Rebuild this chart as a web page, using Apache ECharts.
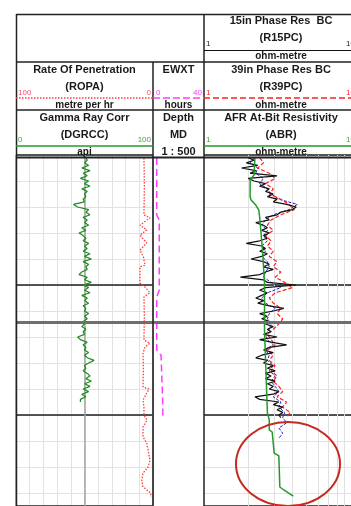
<!DOCTYPE html>
<html><head><meta charset="utf-8">
<script src="https://cdn.jsdelivr.net/npm/echarts@6/dist/echarts.min.js"></script>
<style>html,body{margin:0;padding:0;background:#fff}#c{width:351px;height:506px}</style>
</head><body><div id="c"></div>
<script>
// ---- depth axis ----
const depthMin = 1475, depthMax = 1542.5;
const minorStep = 5, majorStep = 25;

// ---- Gamma Ray Corr (DGRCC), api, 0..100 ----
const gammaTop = 1475.5, gammaStep = 0.5;
const gammaValues = [
  51,52,50,53,48,54,49,52,47,53,
  50,54,48,52,50,51,49,50,42,45,
  53,51,54,49,52,50,53,48,51,46,
  49,51,49,53,50,52,49,54,50,55,
  49,53,51,52,48,46,52,50,55,49,
  53,50,54,48,52,50,53,49,51,50,
  53,50,52,49,50,48,51,49,50,45,
  47,52,49,51,50,53,50,52,57,53,
  50,51,49,52,54,51,55,50,54,49,
  53,48,51,47,47
];

// ---- Rate Of Penetration (ROPA), metre per hr, 100..0 ----
const ropaDepths = [1475.6,1481,1486.5,1487.1,1488.5,1489.4,1490.4,1491.9,1493.3,1494.6,1496.2,1496.5,1498.5,1499.6,1500.4,1501.5,1502.3,1506,1510.6,1511.2,1511.9,1513.1,1516,1519.6,1520.0,1520.8,1522.1,1523.5,1525,1526,1527.3,1529.2,1530.4,1531.7,1533.7,1535,1536.2,1537.5,1538.8,1540,1540.8];
const ropaValues = [6.6,6.3,6.6,2.2,9.5,4.6,9.5,4.6,9.5,7.0,5.8,9.5,9.5,9.5,5.8,2.2,6.6,6.3,6.6,2.2,5.8,7.3,7.0,7.3,2.9,4.6,7.3,6.6,6.6,4.4,7.3,7.3,4.6,3.6,2.2,3.6,7.3,8.2,7.3,1.7,1.5];

// ---- EWXT, hours, 0..40 ----
const ewxtDepths = [1475.6,1486.5,1487.5,1501,1502.3,1512.5,1513.5,1515.4,1519.6,1522.7,1525.6];
const ewxtValues = [2.9,2.9,4.9,4.9,2.9,2.9,6.3,6.6,7.2,7.6,7.7];

// ---- 15in Phase Res BC (R15PC), ohm-metre, 1..10 log ----
const r15Top = 1475.5, r15Step = 0.5;
const r15Values = [
  2.00,2.19,1.94,2.32,1.80,2.25,2.06,3.14,2.00,2.19,
  2.62,2.39,2.78,2.62,2.96,2.70,3.14,2.96,3.65,4.24,
  4.00,3.33,3.14,2.62,2.78,2.25,2.54,2.70,2.47,2.78,
  2.54,2.70,2.39,1.94,2.47,2.62,2.39,2.70,2.47,2.09,
  2.54,2.78,2.54,2.96,2.62,2.39,1.77,2.54,2.70,4.24,
  2.62,2.39,2.70,2.47,2.25,2.54,2.32,2.78,3.49,2.96,
  2.39,2.70,2.47,2.78,2.62,2.96,2.70,2.86,2.54,3.14,
  2.39,2.86,3.65,2.78,2.54,2.96,2.47,2.25,2.70,2.54,
  2.96,2.70,3.05,2.62,2.86,2.62,3.05,2.70,2.96,2.78,
  3.23,2.96,2.22,2.39,3.23,2.96,3.43,3.14,3.43,3.23,
  3.33
];

// ---- 39in Phase Res BC (R39PC), ohm-metre ----
const r39Top = 1475.5, r39Step = 1;
const r39Values = [
  2.39,2.54,2.32,2.78,3.05,2.62,2.96,2.78,3.33,3.79,
  4.11,3.33,2.86,2.70,2.96,2.62,2.86,2.70,2.96,2.78,
  3.14,2.96,3.33,3.05,3.54,4.00,3.05,2.78,2.96,3.33,
  3.14,3.43,3.23,2.96,2.70,2.86,3.05,2.70,2.96,2.78,
  3.05,2.86,3.14,2.96,3.23,3.43,3.14,3.65,3.43,3.86,
  3.65
];

// ---- blue resistivity curve, ohm-metre ----
const blueTop = 1475.5, blueStep = 1;
const blueValues = [
  2.19,2.06,2.32,2.25,2.54,2.39,2.70,2.86,3.23,4.31,
  3.79,2.96,2.62,2.47,2.70,2.54,2.70,2.47,2.62,2.47,
  2.70,2.78,2.62,2.54,2.86,3.33,2.70,2.47,2.62,3.05,
  2.78,2.70,2.86,2.78,2.62,2.70,2.96,2.62,2.78,2.70,
  2.96,2.78,3.05,2.86,3.05,3.23,2.96,3.33,3.23,3.54,
  3.43,3.65,3.23,3.43,3.23
];

// ---- AFR At-Bit Resistivity (ABR), ohm-metre ----
const abrDepths = [1475.58,1478.85,1479.81,1483.08,1483.65,1484.62,1485.58,1486.92,1493.27,1499.62,1508.65,1524.62,1525.96,1527.88,1528.27,1532.31,1532.88,1538.85,1539.42,1540.58];
const abrValues = [2.22,2.19,2.06,2.06,2.09,2.25,2.36,2.39,2.50,2.58,2.58,2.70,2.78,2.78,2.91,3.00,3.23,3.28,3.49,4.05];

const logGridValues = [2,3,4,5,6,7,8,9];
const sectionBreaks = [1507.1];

// ---- build series data ----
const fromStep = (top, step, vals) => vals.map((v, i) => [v, top + i * step]);
const fromPairs = (ds, vals) => vals.map((v, i) => [v, ds[i]]);

const FONT = '"Liberation Sans", Arial, Helvetica, sans-serif';
const chart = echarts.init(document.getElementById('c'), null, {renderer: 'canvas'});

const hideAxis = {axisLine:{show:false}, axisTick:{show:false}, axisLabel:{show:false}};
const yBase = {type:'value', inverse:true, min:depthMin, max:depthMax, ...hideAxis};
const minorLine = {show:true, lineStyle:{color:'#e2e2e2', width:1}};
const majorLine = {show:true, lineStyle:{color:'#1e1e1e', width:1.5}};

const breakLine = {
  silent:true, symbol:'none', label:{show:false}, animation:false,
  lineStyle:{color:'#6e6e6e', width:3, type:'solid'},
  emphasis:{disabled:true},
  data: sectionBreaks.map(d => ({yAxis:d}))
};

const lineBase = {type:'line', showSymbol:false, symbol:'none', silent:true, animation:false, z:2};

// ---- header graphics ----
const g = [];
function ln(x1,y1,x2,y2,color,w,dash){
  g.push({type:'line', z:100, silent:true, shape:{x1,y1,x2,y2},
    style:{stroke:color, lineWidth:w, lineDash:dash||null}});
}
function tx(text,x,y,size,color,align,bold){
  g.push({type:'text', z:101, silent:true,
    style:{text, x, y, fill:color, font:(bold?'bold ':'')+size+'px '+FONT,
      textAlign:align||'center', align:align||'center',
      textVerticalAlign:'middle', verticalAlign:'middle'}});
}
const B = '#222';
const cL = 84.5, cD = 178.5, cR = 281;
// frame lines
ln(16,14.5,351,14.5,B,1.5);
ln(16,62,351,62,B,1.5);
ln(16,110,351,110,B,1.5);
ln(16,157.5,351,157.5,B,2);
ln(16.5,14,16.5,506,B,1.5);
ln(153,62,153,506,B,1.5);
ln(204,14,204,506,B,1.5);
// row 1 : R15PC
tx('15in Phase Res  BC',cR,21,11,'#1a1a1a','center',true);
tx('(R15PC)',cR,38,11,'#1a1a1a','center',true);
tx('1',206,44,8,'#222','left',false);
tx('10',355,44,8,'#222','right',false);
ln(204,50.5,357,50.5,'#111',1);
tx('ohm-metre',cR,56.5,10,'#1a1a1a','center',true);
// row 2
tx('Rate Of Penetration',cL,69.5,11,'#1a1a1a','center',true);
tx('(ROPA)',cL,86.5,11,'#1a1a1a','center',true);
tx('100',18,92.5,8,'#ff4d6d','left',false);
tx('0',151,92.5,8,'#ff4d6d','right',false);
ln(16,98,153,98,'#ff3b3b',1.5,[1.5,1.5]);
tx('metre per hr',cL,105,10,'#1a1a1a','center',true);
tx('EWXT',cD,69.5,11,'#1a1a1a','center',true);
tx('0',156,92.5,8,'#ff33ff','left',false);
tx('40',202,92.5,8,'#ff33ff','right',false);
ln(153,98,204,98,'#ff3cff',1.5,[7,3]);
tx('hours',cD,105,10,'#1a1a1a','center',true);
tx('39in Phase Res BC',cR,69.5,11,'#1a1a1a','center',true);
tx('(R39PC)',cR,86.5,11,'#1a1a1a','center',true);
tx('1',206,92.5,8,'#ff2020','left',false);
tx('10',355,92.5,8,'#ff2020','right',false);
ln(204,98,357,98,'#ff2020',1.5,[6,3]);
tx('ohm-metre',cR,105,10,'#1a1a1a','center',true);
// row 3
tx('Gamma Ray Corr',cL,117.5,11,'#1a1a1a','center',true);
tx('(DGRCC)',cL,135,11,'#1a1a1a','center',true);
tx('0',18,140,8,'#3da63d','left',false);
tx('100',151,140,8,'#3da63d','right',false);
ln(16,146,153,146,'#2a9a2a',1.5);
tx('api',cL,152.5,10,'#1a1a1a','center',true);
tx('Depth',cD,117.5,11,'#1a1a1a','center',true);
tx('MD',cD,135,11,'#1a1a1a','center',true);
tx('1 : 500',cD,151.5,11,'#1a1a1a','center',true);
tx('AFR At-Bit Resistivity',cR,117.5,11,'#1a1a1a','center',true);
tx('(ABR)',cR,135,11,'#1a1a1a','center',true);
tx('1',206,140,8,'#3da63d','left',false);
tx('10',355,140,8,'#3da63d','right',false);
ln(204,146,357,146,'#22992a',1.5);
tx('ohm-metre',cR,152.5,10,'#1a1a1a','center',true);
// annotation ellipse
g.push({type:'ellipse', z:102, silent:true, shape:{cx:288, cy:464, rx:52, ry:42},
  style:{fill:'none', stroke:'#c42a1e', lineWidth:2}});

const option = {
  animation:false,
  backgroundColor:'#fff',
  grid:[
    {left:16, top:155, width:137, height:351},
    {left:153, top:155, width:51, height:351},
    {left:204, top:155, width:153, height:351}
  ],
  xAxis:[
    {gridIndex:0, type:'value', min:0, max:100, interval:10, ...hideAxis, splitLine:minorLine},
    {gridIndex:0, type:'value', min:0, max:100, inverse:true, ...hideAxis, splitLine:{show:false}},
    {gridIndex:0, type:'value', min:0, max:100, interval:50, z:1, ...hideAxis, splitLine:{show:true, lineStyle:{color:'#a2a2a2', width:1.5}}},
    {gridIndex:1, type:'value', min:0, max:40, ...hideAxis, splitLine:{show:false}},
    {gridIndex:2, type:'log', logBase:10, min:1, max:10, ...hideAxis, splitLine:{show:false}}
  ],
  yAxis:[
    {gridIndex:0, ...yBase, interval:minorStep, splitLine:minorLine},
    {gridIndex:0, ...yBase, interval:majorStep, z:1, splitLine:majorLine},
    {gridIndex:1, ...yBase, splitLine:{show:false}},
    {gridIndex:2, ...yBase, interval:minorStep, splitLine:minorLine},
    {gridIndex:2, ...yBase, interval:majorStep, z:1, splitLine:majorLine}
  ],
  series:[
    {...lineBase, name:'DGRCC', xAxisIndex:0, yAxisIndex:0, data:fromStep(gammaTop,gammaStep,gammaValues),
      lineStyle:{color:'#1f8a1f', width:1.2}, markLine:breakLine},
    {...lineBase, name:'ROPA', xAxisIndex:1, yAxisIndex:0, data:fromPairs(ropaDepths,ropaValues),
      lineStyle:{color:'#ff3b3b', width:1.3, type:[1.5,1.5]}},
    {...lineBase, name:'EWXT', xAxisIndex:3, yAxisIndex:2, data:fromPairs(ewxtDepths,ewxtValues),
      lineStyle:{color:'#ff3cff', width:1.5, type:[7,4]}, markLine:breakLine},
    {...lineBase, name:'BLUE', xAxisIndex:4, yAxisIndex:3, data:fromStep(blueTop,blueStep,blueValues),
      lineStyle:{color:'#1a1acc', width:1, type:[3,1.5]},
      markLine:{silent:true, symbol:'none', z:1, label:{show:false}, animation:false, emphasis:{disabled:true},
        lineStyle:{color:'#e0e0e0', width:1, type:'solid'},
        data:logGridValues.map(v => ({xAxis:v}))}},
    {...lineBase, name:'R39PC', xAxisIndex:4, yAxisIndex:3, data:fromStep(r39Top,r39Step,r39Values),
      lineStyle:{color:'#ff2020', width:1.2, type:[4,2]}},
    {...lineBase, name:'R15PC', xAxisIndex:4, yAxisIndex:3, data:fromStep(r15Top,r15Step,r15Values),
      lineStyle:{color:'#111', width:1.2}},
    {...lineBase, name:'ABR', xAxisIndex:4, yAxisIndex:3, data:fromPairs(abrDepths,abrValues),
      lineStyle:{color:'#22992a', width:1.5}, markLine:breakLine}
  ],
  graphic:g
};
chart.setOption(option);
</script></body></html>
